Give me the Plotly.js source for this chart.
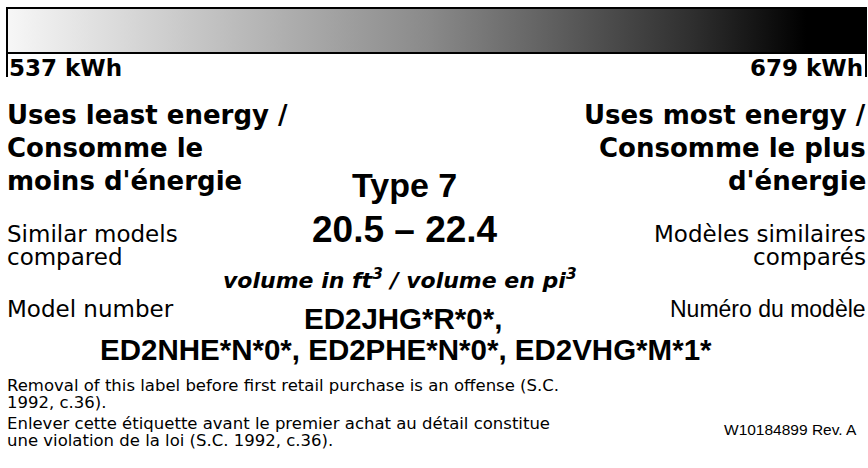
<!DOCTYPE html>
<html>
<head>
<meta charset="utf-8">
<script src="https://cdn.plot.ly/plotly-3.0.1.min.js"></script>
<style>html,body{margin:0;padding:0;background:#fff;}#chart{width:868px;height:468px;}</style>
</head>
<body>
<div id="chart"></div>
<script>
// ---- data ----
const energyRange = [537, 679];           // kWh, least .. most
const energyUnit = 'kWh';
const leftHeading = ['Uses least energy /', 'Consomme le', "moins d'énergie"];
const rightHeading = ['Uses most energy /', 'Consomme le plus', "d'énergie"];
const typeLabel = 'Type 7';
const volumeRange = [20.5, 22.4];
const volumeUnit = 'volume in ft<sup>3</sup> / volume en pi<sup>3</sup>';
const similarLeft = ['Similar models', 'compared'];
const similarRight = ['Modèles similaires', 'comparés'];
const modelLabelEn = 'Model number';
const modelLabelFr = 'Numéro du modèle';
const modelNumbers = ['ED2JHG*R*0*', 'ED2NHE*N*0*', 'ED2PHE*N*0*', 'ED2VHG*M*1*'];
const legalLines = [
  'Removal of this label before first retail purchase is an offense (S.C.',
  '1992, c.36).',
  'Enlever cette étiquette avant le premier achat au détail constitue',
  'une violation de la loi (S.C. 1992, c.36).'
];
const partNumber = 'W10184899 Rev. A';

// ---- layout helpers (pixel -> paper) ----
const W = 868, H = 468;
const px = p => p / W;
const py = p => 1 - p / H;
const barLeft = 7, barRight = 866, barTop = 8, barBottom = 53;
const xs = (barRight - barLeft) / (energyRange[1] - energyRange[0]);
const xRange = [energyRange[0] - barLeft / xs, energyRange[1] + (W - barRight) / xs];
const ys = barBottom - barTop;
const yRange = [-(H - barBottom) / ys, 1 + barTop / ys];

const gradient = [
  [0, '#f7f7f7'], [0.34, '#ababab'], [0.49, '#8a8a8a'], [0.65, '#5b5b5b'],
  [0.80, '#2e2e2e'], [0.93, '#000000'], [1, '#000000']
];

const DV = 'DejaVu Sans, Verdana, sans-serif';
const LS = 'Liberation Sans, Arial, Helvetica, sans-serif';

const annotations = [];
function txt(text, x, baseline, anchor, size, family, weight, style) {
  annotations.push({
    text: text, xref: 'paper', yref: 'paper',
    x: px(x), y: py(baseline - 0.35 * size),
    xanchor: anchor, yanchor: 'middle', showarrow: false,
    borderpad: 0, borderwidth: 0,
    font: {family: family, size: size, color: '#000', weight: weight || 'normal', style: style || 'normal'}
  });
}

txt(energyRange[0] + ' ' + energyUnit, 9, 76, 'left', 23, DV, 'bold');
txt(energyRange[1] + ' ' + energyUnit, 863, 76, 'right', 23, DV, 'bold');

const headBase = [124, 157, 190];
leftHeading.forEach((t, i) => txt(t, 7, headBase[i], 'left', 26, DV, 'bold'));
rightHeading.forEach((t, i) => txt(t, 866, headBase[i], 'right', 26, DV, 'bold'));

txt(typeLabel, 404, 197, 'center', 34, LS, 'bold');
txt(volumeRange[0].toFixed(1) + ' – ' + volumeRange[1].toFixed(1), 405, 242, 'center', 37, LS, 'bold');

const simBase = [242, 265];
similarLeft.forEach((t, i) => txt(t, 7, simBase[i], 'left', 23, DV));
similarRight.forEach((t, i) => txt(t, 866, simBase[i], 'right', 23, DV));

txt(volumeUnit, 400, 287, 'center', 22, DV, 'bold', 'italic');

txt(modelLabelEn, 7, 317, 'left', 23, DV);
txt(modelLabelFr, 866, 317, 'right', 23, LS);
txt(modelNumbers[0] + ',', 403, 329, 'center', 29.5, LS, 'bold');
txt(modelNumbers.slice(1).join(', '), 406, 360, 'center', 29.5, LS, 'bold');

const legalBase = [391, 408, 429, 446];
legalLines.forEach((t, i) => txt(t, 7, legalBase[i], 'left', 16.5, DV));
txt(partNumber, 790, 435, 'center', 15.5, LS);

const shapes = energyRange.map(e => ({
  type: 'line', xref: 'x', yref: 'paper',
  x0: e, x1: e, y0: py(barBottom), y1: py(77),
  line: {color: '#000', width: 2}
}));

const traces = [{
  type: 'scatter', mode: 'lines',
  x: [energyRange[0], energyRange[1], energyRange[1], energyRange[0], energyRange[0]],
  y: [0, 0, 1, 1, 0],
  fill: 'toself',
  fillgradient: {type: 'horizontal', colorscale: gradient},
  line: {color: '#000', width: 2},
  hoverinfo: 'skip', showlegend: false
}];

const layout = {
  width: W, height: H,
  margin: {l: 0, r: 0, t: 0, b: 0, pad: 0},
  paper_bgcolor: '#fff', plot_bgcolor: '#fff',
  xaxis: {range: xRange, visible: false, fixedrange: true},
  yaxis: {range: yRange, visible: false, fixedrange: true},
  showlegend: false,
  annotations: annotations,
  shapes: shapes
};

Plotly.newPlot('chart', traces, layout, {staticPlot: true, displayModeBar: false});
</script>
</body>
</html>
